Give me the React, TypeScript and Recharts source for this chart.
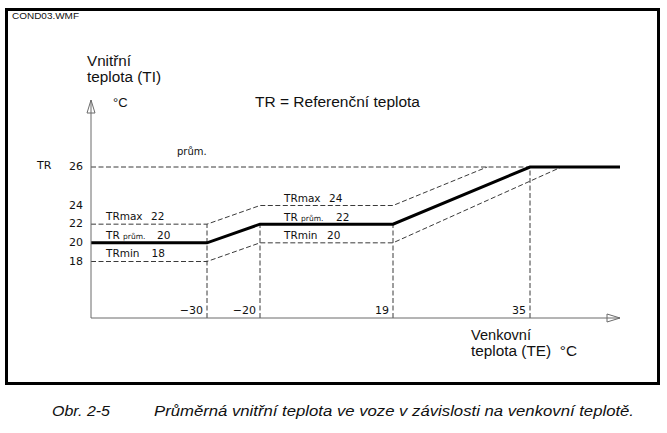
import { LineChart, Line, XAxis, YAxis, ReferenceLine } from 'recharts';

// outdoor temperature TE (x) and inside temperature TI (y) break points
const avgTE = [-50, -30, -20, 19, 35, 45];
const avgTI = [20, 20, 22, 22, 26, 26];
const maxTE = [-50, -30, -20, 19, 30];
const maxTI = [22, 22, 24, 24, 26];
const minTE = [-50, -30, -20, 19, 38.5];
const minTI = [18, 18, 20, 20, 26];

const teTicks = [-30, -20, 19, 35];
const tiTicks = [18, 20, 22, 24, 26];
const refTR = 26;
const dropTE = [-30, -20, 19, 35];
const dropTI = [22, 22, 22, 26];

const teDomain: [number, number] = [-50, 45];
const tiDomain: [number, number] = [15, 29.5];

const avgData = avgTE.map((te, i) => ({ te, ti: avgTI[i] }));
const maxData = maxTE.map((te, i) => ({ te, ti: maxTI[i] }));
const minData = minTE.map((te, i) => ({ te, ti: minTI[i] }));

// the drawing is schematic: axes are piecewise linear, not to scale
const xKnots: [number, number][] = [
  [-50, 0],
  [-30, 116 / 529],
  [-20, 169 / 529],
  [19, 302 / 529],
  [35, 439 / 529],
  [45, 1],
];
const yKnots: [number, number][] = [
  [15, 0],
  [18, 56.5 / 218],
  [24, 112.5 / 218],
  [26, 151 / 218],
  [29.5, 1],
];

function piecewiseScale(knots: [number, number][]): any {
  let dom = [knots[0][0], knots[knots.length - 1][0]];
  let rng = [0, 1];
  const frac = (v: number) => {
    for (let i = 1; i < knots.length; i++) {
      const [v0, f0] = knots[i - 1];
      const [v1, f1] = knots[i];
      if (v <= v1 || i === knots.length - 1) {
        return f0 + ((v - v0) / (v1 - v0)) * (f1 - f0);
      }
    }
    return 0;
  };
  const s: any = (v: number) => rng[0] + frac(Number(v)) * (rng[1] - rng[0]);
  s.domain = (d?: number[]) => {
    if (d === undefined) return dom.slice();
    dom = d.slice();
    return s;
  };
  s.range = (r?: number[]) => {
    if (r === undefined) return rng.slice();
    rng = r.slice();
    return s;
  };
  s.copy = () => piecewiseScale(knots).domain(dom).range(rng);
  s.ticks = () => knots.map((k) => k[0]);
  return s;
}

const xScale = piecewiseScale(xKnots);
const yScale = piecewiseScale(yKnots);

const AXIS = '#6b6b6b';
const DASH = '#3a3a3a';
const SMALL = '"DejaVu Sans", sans-serif';
const BIG = '"Liberation Sans", Arial, sans-serif';

function fmtTE(v: number) {
  return v < 0 ? `\u2212${Math.abs(v)}` : String(v);
}

function XTick(props: any) {
  const { x, y, payload } = props;
  return (
    <text x={x - 4} y={y - 4} textAnchor="end" fontSize={11} fontFamily={SMALL} fill="#111">
      {fmtTE(payload.value)}
    </text>
  );
}

function YTick(props: any) {
  const { x, y, payload } = props;
  return (
    <g>
      {payload.value === refTR && (
        <text x={37} y={y + 2} fontSize={11} fontFamily={SMALL} fill="#111">
          TR
        </text>
      )}
      <text x={x - 8} y={y + 3} textAnchor="end" fontSize={11} fontFamily={SMALL} fill="#111">
        {payload.value}
      </text>
    </g>
  );
}

function Overlay() {
  const t = { fontFamily: SMALL, fontSize: 10.5, fill: '#111' };
  const big = { fontFamily: BIG, fontSize: 14, fill: '#111', lengthAdjust: 'spacingAndGlyphs' };
  const cap = {
    fontFamily: BIG,
    fontSize: 14.5,
    fontStyle: 'italic',
    fill: '#111',
    lengthAdjust: 'spacingAndGlyphs',
  };
  return (
    <svg
      width={667}
      height={433}
      style={{ position: 'absolute', left: 0, top: 0, pointerEvents: 'none' }}
    >
      <text x={12} y={19} fontFamily={BIG} fontSize={9.5} fill="#111" textLength={67} lengthAdjust="spacingAndGlyphs">
        COND03.WMF
      </text>

      <text x={87} y={65.5} {...big} textLength={44}>Vnitřní</text>
      <text x={87} y={82} {...big} textLength={74}>teplota (TI)</text>
      <text x={113} y={107} fontFamily={BIG} fontSize={13} fill="#111">°C</text>
      <text x={255} y={107} {...big} textLength={165}>TR = Referenční teplota</text>
      <text x={177} y={155} {...t} fontSize={10}>prům.</text>

      <text x={106} y={220} {...t}>TRmax<tspan x={151}>22</tspan></text>
      <text x={106} y={238.5} {...t}>
        TR <tspan fontSize={7.5}>prům.</tspan>
        <tspan x={157}>20</tspan>
      </text>
      <text x={106} y={256.5} {...t}>TRmin<tspan x={151.5}>18</tspan></text>

      <text x={284} y={202} {...t}>TRmax<tspan x={329}>24</tspan></text>
      <text x={284} y={220.5} {...t}>
        TR <tspan fontSize={7.5}>prům.</tspan>
        <tspan x={336}>22</tspan>
      </text>
      <text x={284} y={239} {...t}>TRmin<tspan x={327}>20</tspan></text>

      <text x={471} y={339.5} {...big} textLength={60}>Venkovní</text>
      <text x={471} y={356} {...big} style={{ whiteSpace: 'pre' }} textLength={106}>
        teplota (TE)  °C
      </text>

      <polygon points="91,100 87,113 95,113" fill="none" stroke={AXIS} strokeWidth={1} />
      <polygon points="620,318 607,314 607,322" fill="none" stroke={AXIS} strokeWidth={1} />

      <text x={52} y={415.5} {...cap} textLength={58}>Obr. 2-5</text>
      <text x={154} y={415.5} {...cap} textLength={480}>
        Průměrná vnitřní teplota ve voze v závislosti na venkovní teplotě.
      </text>
    </svg>
  );
}

export default function App() {
  return (
    <div
      style={{
        position: 'absolute',
        left: 0,
        top: 0,
        width: 667,
        height: 433,
        background: '#fff',
        overflow: 'hidden',
      }}
    >
      <div
        style={{
          position: 'absolute',
          left: 5,
          top: 8,
          width: 655,
          height: 377,
          border: '3px solid #000',
          boxSizing: 'border-box',
        }}
      />
      <div style={{ position: 'absolute', left: 0, top: 0 }}>
        <LineChart
          width={667}
          height={433}
          margin={{ top: 100, right: 47, bottom: 85, left: 31 }}
        >
          <XAxis
            dataKey="te"
            type="number"
            domain={teDomain}
            scale={xScale}
            ticks={teTicks}
            interval={0}
            tick={XTick}
            tickLine={false}
            tickSize={0}
            tickMargin={0}
            height={30}
            axisLine={{ stroke: AXIS, strokeWidth: 1 }}
            allowDataOverflow
          />
          <YAxis
            type="number"
            domain={tiDomain}
            scale={yScale}
            ticks={tiTicks}
            interval={0}
            tick={YTick}
            tickLine={false}
            tickSize={0}
            tickMargin={0}
            width={60}
            axisLine={{ stroke: AXIS, strokeWidth: 1 }}
            allowDataOverflow
          />

          <ReferenceLine
            segment={[
              { x: teDomain[0], y: refTR },
              { x: dropTE[dropTE.length - 1], y: refTR },
            ]}
            stroke={DASH}
            strokeDasharray="5 2.5"
          />
          {dropTE.map((te, i) => (
            <ReferenceLine
              key={te}
              segment={[
                { x: te, y: tiDomain[0] },
                { x: te, y: dropTI[i] },
              ]}
              stroke={DASH}
              strokeDasharray="5 2.5"
            />
          ))}

          <Line
            data={maxData}
            dataKey="ti"
            type="linear"
            stroke={DASH}
            strokeWidth={1}
            strokeDasharray="5 2.5"
            dot={false}
            isAnimationActive={false}
          />
          <Line
            data={minData}
            dataKey="ti"
            type="linear"
            stroke={DASH}
            strokeWidth={1}
            strokeDasharray="5 2.5"
            dot={false}
            isAnimationActive={false}
          />
          <Line
            data={avgData}
            dataKey="ti"
            type="linear"
            stroke="#000"
            strokeWidth={3}
            dot={false}
            isAnimationActive={false}
          />
        </LineChart>
      </div>
      <Overlay />
    </div>
  );
}
